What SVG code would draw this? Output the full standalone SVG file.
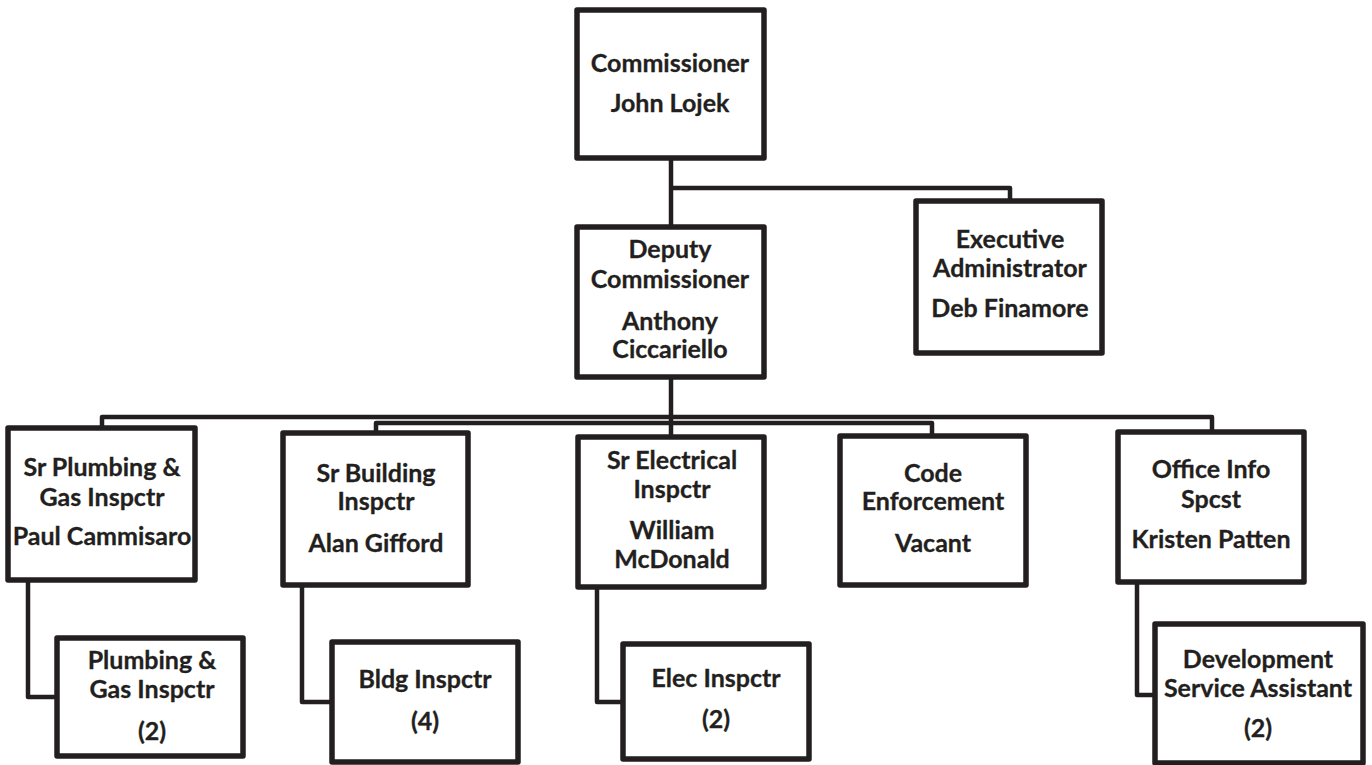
<svg xmlns="http://www.w3.org/2000/svg" width="1372" height="765" viewBox="0 0 1372 765">
<style>
.box{fill:#fff;stroke:#231f20;stroke-width:5.5;stroke-linejoin:round}
.ln{fill:none;stroke:#231f20;stroke-width:4.5;stroke-linejoin:round}
text{font-family:Lato,"Liberation Sans",sans-serif;font-weight:bold;font-size:25px;fill:#231f20;text-anchor:middle;stroke:#231f20;stroke-width:0.3}
</style>
<rect width="1372" height="765" fill="#fff"/>
<g id="connectors">
<path class="ln" d="M671,158 V227"/>
<path class="ln" d="M671,188 H1010 V201"/>
<path class="ln" d="M671,377 V437"/>
<path class="ln" d="M102,428 V417 H1212 V432"/>
<path class="ln" d="M376,433 V423 H932 V436"/>
<path class="ln" d="M28,580 V697 H57"/>
<path class="ln" d="M302,585 V702 H332"/>
<path class="ln" d="M597,587 V702 H623"/>
<path class="ln" d="M1137,582 V695 H1155"/>
</g>
<g id="commissioner">
<rect class="box" x="577" y="10" width="187" height="148"/>
<text x="670" y="72">Commissioner</text>
<text x="670" y="112">John Lojek</text>
</g>
<g id="exec">
<rect class="box" x="916" y="201" width="186" height="152"/>
<text x="1010" y="248">Executive</text>
<text x="1010" y="277">Administrator</text>
<text x="1010" y="317">Deb Finamore</text>
</g>
<g id="deputy">
<rect class="box" x="577" y="227" width="187" height="150"/>
<text x="670" y="258">Deputy</text>
<text x="670" y="288">Commissioner</text>
<text x="670" y="330">Anthony</text>
<text x="670" y="358">Ciccariello</text>
</g>
<g id="sr-plumbing">
<rect class="box" x="8" y="428" width="187" height="152"/>
<text x="102" y="476">Sr Plumbing &amp;</text>
<text x="102" y="506">Gas Inspctr</text>
<text x="102" y="545">Paul Cammisaro</text>
</g>
<g id="plumbing">
<rect class="box" x="57" y="638" width="186" height="118"/>
<text x="152" y="669">Plumbing &amp;</text>
<text x="152" y="698">Gas Inspctr</text>
<text x="152" y="740">(2)</text>
</g>
<g id="sr-building">
<rect class="box" x="283" y="433" width="185" height="152"/>
<text x="376" y="482">Sr Building</text>
<text x="376" y="510">Inspctr</text>
<text x="376" y="552">Alan Gifford</text>
</g>
<g id="bldg">
<rect class="box" x="332" y="642" width="186" height="120"/>
<text x="425" y="688">Bldg Inspctr</text>
<text x="425" y="730">(4)</text>
</g>
<g id="sr-electrical">
<rect class="box" x="578" y="437" width="186" height="150"/>
<text x="672" y="469">Sr Electrical</text>
<text x="672" y="498">Inspctr</text>
<text x="672" y="539">William</text>
<text x="672" y="568">McDonald</text>
</g>
<g id="elec">
<rect class="box" x="623" y="644" width="186" height="115"/>
<text x="716" y="687">Elec Inspctr</text>
<text x="716" y="728">(2)</text>
</g>
<g id="code">
<rect class="box" x="840" y="436" width="186" height="149"/>
<text x="933" y="482">Code</text>
<text x="933" y="510">Enforcement</text>
<text x="933" y="552">Vacant</text>
</g>
<g id="office">
<rect class="box" x="1118" y="432" width="186" height="150"/>
<text x="1211" y="478">Office Info</text>
<text x="1211" y="508">Spcst</text>
<text x="1211" y="548">Kristen Patten</text>
</g>
<g id="dev">
<rect class="box" x="1155" y="624" width="208" height="139"/>
<text x="1258" y="668">Development</text>
<text x="1258" y="697">Service Assistant</text>
<text x="1258" y="737">(2)</text>
</g>
</svg>
